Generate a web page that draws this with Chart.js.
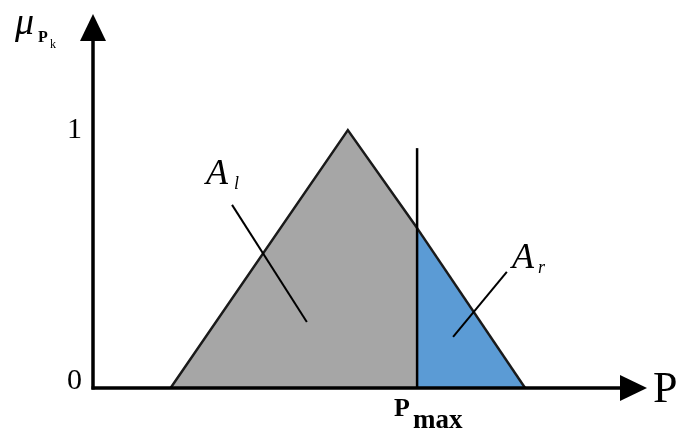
<!DOCTYPE html>
<html>
<head>
<meta charset="utf-8">
<script src="https://cdn.jsdelivr.net/npm/chart.js@4"></script>
<style>
  html, body { margin: 0; padding: 0; background: #ffffff; }
  #wrap { width: 684px; height: 438px; }
</style>
</head>
<body>
<div id="wrap"><canvas id="c" width="684" height="438"></canvas></div>
<script>
// Triangular membership function of P, split at P_max into A_l and A_r
const pLeft = 1.4;      // left foot of the triangle
const pPeak = 4.6;      // apex (membership 1)
const pRight = 7.8;     // right foot
const pMax = 5.85;      // cut position
const muAtPmax = 0.62;  // membership where the cut meets the right slope
const cutTop = 0.93;    // top end of the cut marker

const leftPartX = [pLeft, pPeak, pMax];
const leftPartY = [0, 1, muAtPmax];
const rightPartX = [pMax, pRight];
const rightPartY = [muAtPmax, 0];

// leader lines for the area labels
const leaderLX = [2.51, 3.86];
const leaderLY = [0.71, 0.256];
const leaderRX = [7.47, 6.50];
const leaderRY = [0.45, 0.198];

const yTickValues = [0, 1];
const yTickLabels = ['0', '1'];

const xMin = 0, xMax = 10, yMin = 0, yMax = 1.45;

const pts = (xs, ys) => xs.map((x, i) => ({ x, y: ys[i] }));

const serif = '"Liberation Serif", "DejaVu Serif", serif';

const overlay = {
  id: 'overlay',
  afterDatasetsDraw(chart) {
    const { ctx, chartArea: a, scales: { x, y } } = chart;
    const x0 = x.getPixelForValue(xMin);
    const y0 = y.getPixelForValue(yMin);
    ctx.save();
    ctx.strokeStyle = '#000';
    ctx.fillStyle = '#000';
    ctx.lineWidth = 3.5;
    ctx.lineCap = 'butt';
    // y axis
    ctx.beginPath();
    ctx.moveTo(x0, y0 + 1.5);
    ctx.lineTo(x0, a.top + 20);
    ctx.stroke();
    ctx.beginPath();
    ctx.moveTo(x0, a.top);
    ctx.lineTo(x0 - 13, a.top + 27);
    ctx.lineTo(x0 + 13, a.top + 27);
    ctx.closePath();
    ctx.fill();
    // x axis
    ctx.beginPath();
    ctx.moveTo(x0 - 1.5, y0);
    ctx.lineTo(a.right - 20, y0);
    ctx.stroke();
    ctx.beginPath();
    ctx.moveTo(a.right, y0);
    ctx.lineTo(a.right - 27, y0 - 13);
    ctx.lineTo(a.right - 27, y0 + 13);
    ctx.closePath();
    ctx.fill();

    // y tick labels (the zero label sits a little above the axis line)
    ctx.textBaseline = 'middle';
    ctx.textAlign = 'right';
    ctx.font = '30px ' + serif;
    yTickValues.forEach((v, i) => {
      const lift = v === yMin ? 7 : 0;
      ctx.fillText(yTickLabels[i], x0 - 11, y.getPixelForValue(v) - lift);
    });
    ctx.textBaseline = 'alphabetic';

    // x axis name
    ctx.textAlign = 'left';
    ctx.font = '44px ' + serif;
    ctx.fillText('P', a.right + 6, y0 + 14);

    // P_max under the cut
    const px = x.getPixelForValue(pMax);
    ctx.font = 'bold 26px ' + serif;
    ctx.fillText('P', px - 23, y0 + 28);
    ctx.font = 'bold 27px ' + serif;
    ctx.fillText('max', px - 4, y0 + 40);

    // y axis name mu_{P_k}
    ctx.font = 'italic 38px ' + serif;
    ctx.fillText('\u03bc', 15, 34);
    ctx.font = 'bold 16px ' + serif;
    ctx.fillText('P', 38, 42);
    ctx.font = '12px ' + serif;
    ctx.fillText('k', 50, 48);

    // area labels
    ctx.font = 'italic 36px ' + serif;
    ctx.fillText('A', 206, 184);
    ctx.font = 'italic 18px ' + serif;
    ctx.fillText('l', 234, 189);
    ctx.font = 'italic 36px ' + serif;
    ctx.fillText('A', 512, 268);
    ctx.font = 'italic 18px ' + serif;
    ctx.fillText('r', 538, 273);
    ctx.restore();
  }
};

new Chart(document.getElementById('c'), {
  type: 'line',
  data: {
    datasets: [
      {
        data: pts(leftPartX, leftPartY),
        borderColor: '#1a1a1a', borderWidth: 2.5,
        backgroundColor: '#a6a6a6', fill: 'origin',
        pointRadius: 0, tension: 0, order: 2
      },
      {
        data: pts(rightPartX, rightPartY),
        borderColor: '#1a1a1a', borderWidth: 2.5,
        backgroundColor: '#5b9bd5', fill: 'origin',
        pointRadius: 0, tension: 0, order: 2
      },
      {
        data: pts([pMax, pMax], [0, cutTop]),
        borderColor: '#000', borderWidth: 2.5, fill: false, pointRadius: 0, order: 0
      },
      {
        data: pts(leaderLX, leaderLY),
        borderColor: '#000', borderWidth: 2, fill: false, pointRadius: 0, order: 0
      },
      {
        data: pts(leaderRX, leaderRY),
        borderColor: '#000', borderWidth: 2, fill: false, pointRadius: 0, order: 0
      }
    ]
  },
  options: {
    responsive: false,
    animation: false,
    layout: { padding: { left: 93, right: 37, top: 14, bottom: 50 } },
    plugins: { legend: { display: false }, tooltip: { enabled: false } },
    scales: {
      x: { type: 'linear', min: xMin, max: xMax, display: false },
      y: { type: 'linear', min: yMin, max: yMax, display: false }
    },
    elements: { line: { borderJoinStyle: 'miter' } }
  },
  plugins: [overlay]
});
</script>
</body>
</html>
